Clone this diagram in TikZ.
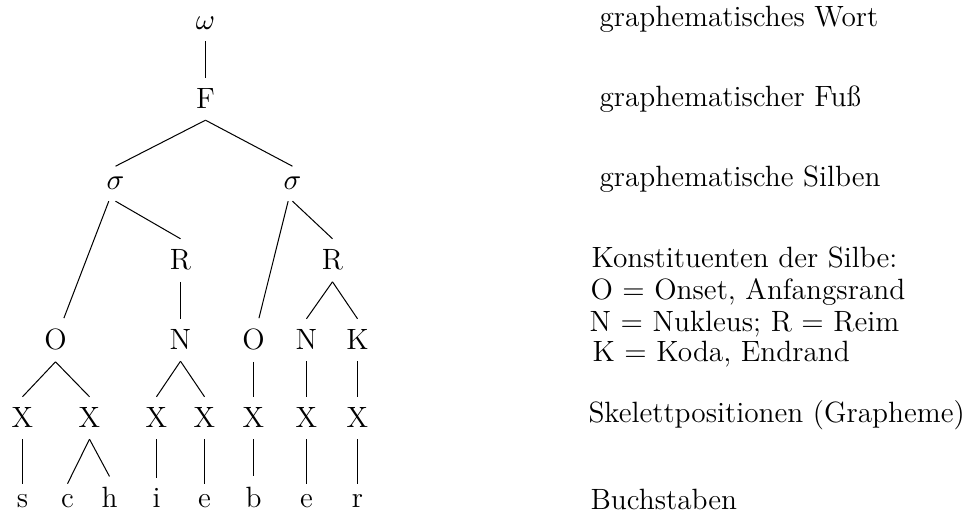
\documentclass[tikz,border=0pt]{standalone}
\usepackage{fontspec}
\begin{document}
\begin{tikzpicture}[x=0.375pt,y=-0.375pt,
  every node/.style={font=\fontsize{11}{13}\selectfont},
  tn/.style={anchor=base,inner sep=4pt},
  lab/.style={anchor=base west,inner sep=0pt},
  edge/.style={line width=0.38pt}]
\useasboundingbox (0,0) rectangle (977,515);
\begin{scope}[xshift=0.1875pt]
% tree nodes
\node[tn] (w)  at (205,30)  {$\omega$};
\node[tn] (F)  at (205,109) {F};
\node[tn] (s1) at (115,190) {$\sigma$};
\node[tn] (s2) at (292,190) {$\sigma$};
\node[tn] (R1) at (180,270) {R};
\node[tn] (R2) at (332,270) {R};
\node[tn] (O1) at (55,350)  {O};
\node[tn] (N1) at (180,350) {N};
\node[tn] (O2) at (253,350) {O};
\node[tn] (N2) at (306,350) {N};
\node[tn] (K)  at (357,350) {K};
\node[tn] (x1) at (22,428)  {X};
\node[tn] (x2) at (89,428)  {X};
\node[tn] (x3) at (156,428) {X};
\node[tn] (x4) at (204,428) {X};
\node[tn] (x5) at (253,428) {X};
\node[tn] (x6) at (306,428) {X};
\node[tn] (x7) at (357,428) {X};
\node[tn] (l1) at (22,508)  {s};
\node[tn] (l2) at (67,508)  {c};
\node[tn] (l3) at (109,508) {h};
\node[tn] (l4) at (156,508) {i};
\node[tn] (l5) at (204,508) {e};
\node[tn] (l6) at (253,508) {b};
\node[tn] (l7) at (306,508) {e};
\node[tn] (l8) at (357,508) {r};
% edges
\draw[edge] (w.south) -- (F.north);
\draw[edge] (F.south) -- (s1.north);
\draw[edge] (F.south) -- (s2.north);
\draw[edge] (s1) -- (O1);
\draw[edge] (s1.south) -- (R1.north);
\draw[edge] (s2) -- (O2);
\draw[edge] (s2.south) -- (R2.north);
\draw[edge] (R1.south) -- (N1.north);
\draw[edge] (R2.south) -- (N2.north);
\draw[edge] (R2.south) -- (K.north);
\draw[edge] (O1.south) -- (x1.north);
\draw[edge] (O1.south) -- (x2.north);
\draw[edge] (N1.south) -- (x3.north);
\draw[edge] (N1.south) -- (x4.north);
\draw[edge] (O2.south) -- (x5.north);
\draw[edge] (N2.south) -- (x6.north);
\draw[edge] (K.south) -- (x7.north);
\draw[edge] (x1.south) -- (l1.north);
\draw[edge] (x2.south) -- (l2.north);
\draw[edge] (x2.south) -- (l3.north);
\draw[edge] (x3.south) -- (l4.north);
\draw[edge] (x4.south) -- (l5.north);
\draw[edge] (x5.south) -- (l6.north);
\draw[edge] (x6.south) -- (l7.north);
\draw[edge] (x7.south) -- (l8.north);
\end{scope}
% labels
\node[lab] (t1) at (599,27)  {graphematisches Wort};
\node[lab] (t2) at (599,107) {graphematischer Fuß};
\node[lab] (t3) at (599,187) {graphematische Silben};
\node[lab] (t4) at (591,268) {Konstituenten der Silbe:};
\node[lab] (t5) at (590,300) {O = Onset, Anfangsrand};
\node[lab] (t6) at (589,332) {N = Nukleus; R = Reim};
\node[lab] (t7) at (592,362) {K = Koda, Endrand};
\node[lab] (t8) at (588,423) {Skelettpositionen (Grapheme)};
\node[lab] (t9) at (590,510) {Buchstaben};
\end{tikzpicture}
\end{document}
